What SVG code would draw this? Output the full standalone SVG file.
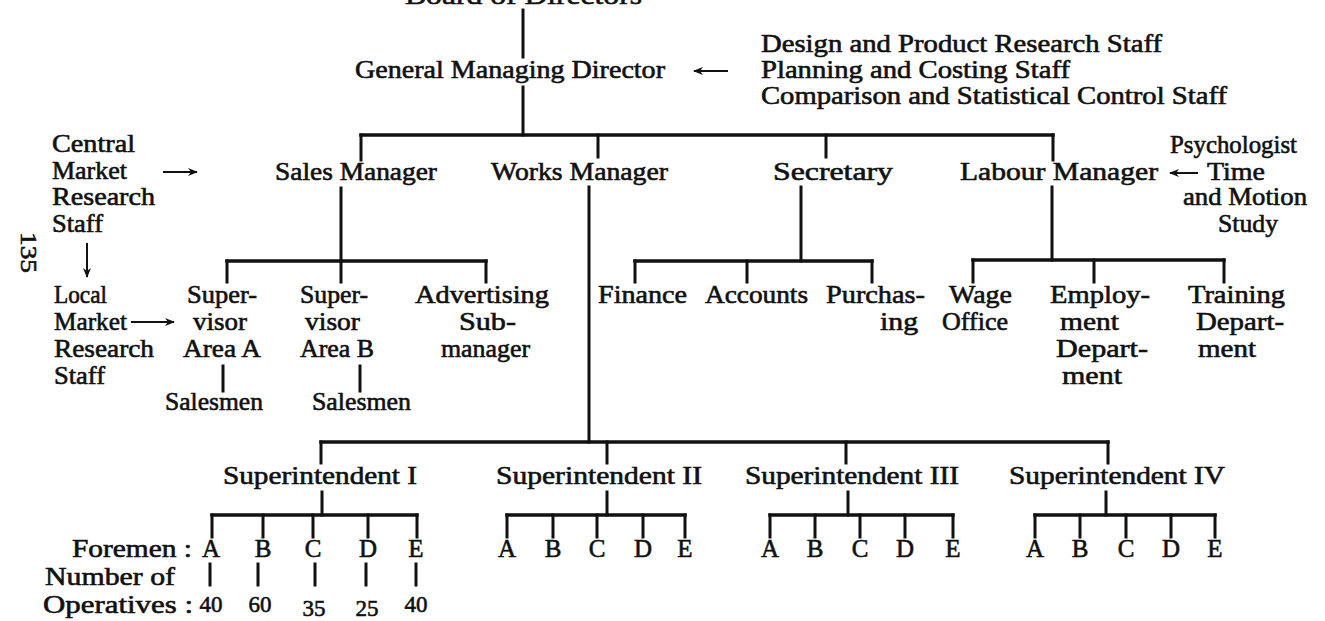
<svg xmlns="http://www.w3.org/2000/svg" width="1325" height="621" viewBox="0 0 1325 621">
<style>
text{font-family:"Liberation Serif","DejaVu Serif",serif;font-size:25px;fill:#111;stroke:#111;stroke-width:0.6}
.n{font-size:23px}
.c line{stroke:#111;stroke-width:3;stroke-linecap:square}
.c line.bar{stroke-width:3.5}
.c line.ar{stroke-width:2;stroke-linecap:butt}
</style>
<defs>
<marker id="ah" viewBox="0 0 10 10" refX="9" refY="5" markerWidth="5" markerHeight="5" orient="auto" markerUnits="strokeWidth">
<path d="M0,1 L10,5 L0,9 L3,5 Z" fill="#111"/>
</marker>
</defs>
<rect width="1325" height="621" fill="#fff"/>

<g class="c" id="connectors">
<line x1="523" y1="10" x2="523" y2="57"/>
<line x1="523" y1="87" x2="523" y2="135"/>
<line class="bar" x1="361" y1="135" x2="1053" y2="135"/>
<line x1="361" y1="135" x2="361" y2="160"/>
<line x1="598" y1="135" x2="598" y2="157"/>
<line x1="826" y1="135" x2="826" y2="157"/>
<line x1="1053" y1="135" x2="1053" y2="160"/>
<line class="ar" x1="728" y1="71" x2="694" y2="71" marker-end="url(#ah)"/>
<line class="ar" x1="163" y1="172" x2="197" y2="172" marker-end="url(#ah)"/>
<line class="ar" x1="1198" y1="173" x2="1170" y2="173" marker-end="url(#ah)"/>
<line class="ar" x1="87" y1="243" x2="87" y2="277" marker-end="url(#ah)"/>
<line class="ar" x1="131" y1="322" x2="174" y2="322" marker-end="url(#ah)"/>
<!-- sales -->
<line x1="341" y1="188" x2="341" y2="261"/>
<line class="bar" x1="227" y1="261" x2="486" y2="261"/>
<line x1="227" y1="261" x2="227" y2="282"/>
<line x1="341" y1="261" x2="341" y2="282"/>
<line x1="486" y1="261" x2="486" y2="282"/>
<line x1="223" y1="366" x2="223" y2="391"/>
<line x1="360" y1="366" x2="360" y2="391"/>
<!-- secretary -->
<line x1="801" y1="187" x2="801" y2="261"/>
<line class="bar" x1="635" y1="261" x2="872" y2="261"/>
<line x1="635" y1="261" x2="635" y2="282"/>
<line x1="747" y1="261" x2="747" y2="282"/>
<line x1="872" y1="261" x2="872" y2="282"/>
<!-- labour -->
<line x1="1052" y1="187" x2="1052" y2="260"/>
<line class="bar" x1="973" y1="260" x2="1224" y2="260"/>
<line x1="973" y1="260" x2="973" y2="282"/>
<line x1="1094" y1="260" x2="1094" y2="282"/>
<line x1="1224" y1="260" x2="1224" y2="282"/>
<!-- works -->
<line x1="589" y1="187" x2="589" y2="442"/>
<line class="bar" x1="321" y1="442" x2="1108" y2="442"/>
<line x1="321" y1="442" x2="321" y2="463"/>
<line x1="607" y1="442" x2="607" y2="463"/>
<line x1="846" y1="442" x2="846" y2="463"/>
<line x1="1108" y1="442" x2="1108" y2="463"/>
<!-- superintendents -->
<line x1="322" y1="492" x2="322" y2="515"/>
<line class="bar" x1="212" y1="515" x2="417" y2="515"/>
<line x1="212" y1="515" x2="212" y2="537"/>
<line x1="263" y1="515" x2="263" y2="537"/>
<line x1="313" y1="515" x2="313" y2="537"/>
<line x1="368" y1="515" x2="368" y2="537"/>
<line x1="417" y1="515" x2="417" y2="537"/>
<line x1="607" y1="492" x2="607" y2="515"/>
<line class="bar" x1="507" y1="515" x2="685" y2="515"/>
<line x1="507" y1="515" x2="507" y2="537"/>
<line x1="553" y1="515" x2="553" y2="537"/>
<line x1="597" y1="515" x2="597" y2="537"/>
<line x1="643" y1="515" x2="643" y2="537"/>
<line x1="685" y1="515" x2="685" y2="537"/>
<line x1="848" y1="492" x2="848" y2="515"/>
<line class="bar" x1="770" y1="515" x2="953" y2="515"/>
<line x1="770" y1="515" x2="770" y2="537"/>
<line x1="815" y1="515" x2="815" y2="537"/>
<line x1="860" y1="515" x2="860" y2="537"/>
<line x1="905" y1="515" x2="905" y2="537"/>
<line x1="953" y1="515" x2="953" y2="537"/>
<line x1="1106" y1="492" x2="1106" y2="515"/>
<line class="bar" x1="1035" y1="515" x2="1215" y2="515"/>
<line x1="1035" y1="515" x2="1035" y2="537"/>
<line x1="1080" y1="515" x2="1080" y2="537"/>
<line x1="1126" y1="515" x2="1126" y2="537"/>
<line x1="1171" y1="515" x2="1171" y2="537"/>
<line x1="1215" y1="515" x2="1215" y2="537"/>
<!-- operatives ticks -->
<line x1="210" y1="564" x2="210" y2="585"/>
<line x1="258" y1="564" x2="258" y2="585"/>
<line x1="315" y1="564" x2="315" y2="585"/>
<line x1="366" y1="564" x2="366" y2="585"/>
<line x1="416" y1="564" x2="416" y2="585"/>
</g>

<g id="board"><text x="405" y="4" textLength="237" lengthAdjust="spacingAndGlyphs">Board of Directors</text></g>
<g id="gmd"><text x="355" y="78" textLength="310" lengthAdjust="spacingAndGlyphs">General Managing Director</text></g>
<g id="staff-top">
<text x="761" y="52" textLength="401" lengthAdjust="spacingAndGlyphs">Design and Product Research Staff</text>
<text x="761" y="78" textLength="309" lengthAdjust="spacingAndGlyphs">Planning and Costing Staff</text>
<text x="761" y="104" textLength="466" lengthAdjust="spacingAndGlyphs">Comparison and Statistical Control Staff</text>
</g>
<g id="central-market">
<text x="52" y="152" textLength="83" lengthAdjust="spacingAndGlyphs">Central</text>
<text x="52" y="179" textLength="75" lengthAdjust="spacingAndGlyphs">Market</text>
<text x="52" y="205" textLength="103" lengthAdjust="spacingAndGlyphs">Research</text>
<text x="52" y="232" textLength="51" lengthAdjust="spacingAndGlyphs">Staff</text>
</g>
<g id="page-number"><text class="n" transform="translate(21,232) rotate(90)" textLength="41" lengthAdjust="spacingAndGlyphs">135</text></g>
<g id="sales-manager"><text x="275" y="180" textLength="162" lengthAdjust="spacingAndGlyphs">Sales Manager</text></g>
<g id="works-manager"><text x="491" y="180" textLength="177" lengthAdjust="spacingAndGlyphs">Works Manager</text></g>
<g id="secretary"><text x="773" y="180" textLength="120" lengthAdjust="spacingAndGlyphs">Secretary</text></g>
<g id="labour-manager"><text x="960" y="180" textLength="198" lengthAdjust="spacingAndGlyphs">Labour Manager</text></g>
<g id="psychologist">
<text x="1170" y="153" textLength="127" lengthAdjust="spacingAndGlyphs">Psychologist</text>
<text x="1207" y="180" textLength="58" lengthAdjust="spacingAndGlyphs">Time</text>
<text x="1183" y="205" textLength="124" lengthAdjust="spacingAndGlyphs">and Motion</text>
<text x="1218" y="232" textLength="60" lengthAdjust="spacingAndGlyphs">Study</text>
</g>
<g id="local-market">
<text x="54" y="303" textLength="53" lengthAdjust="spacingAndGlyphs">Local</text>
<text x="54" y="330" textLength="73" lengthAdjust="spacingAndGlyphs">Market</text>
<text x="54" y="357" textLength="100" lengthAdjust="spacingAndGlyphs">Research</text>
<text x="54" y="384" textLength="51" lengthAdjust="spacingAndGlyphs">Staff</text>
</g>
<g id="supervisor-a">
<text x="187" y="303" textLength="70" lengthAdjust="spacingAndGlyphs">Super-</text>
<text x="193" y="330" textLength="54" lengthAdjust="spacingAndGlyphs">visor</text>
<text x="183" y="357" textLength="78" lengthAdjust="spacingAndGlyphs">Area A</text>
</g>
<g id="supervisor-b">
<text x="300" y="303" textLength="68" lengthAdjust="spacingAndGlyphs">Super-</text>
<text x="305" y="330" textLength="55" lengthAdjust="spacingAndGlyphs">visor</text>
<text x="300" y="357" textLength="74" lengthAdjust="spacingAndGlyphs">Area B</text>
</g>
<g id="advertising">
<text x="415" y="303" textLength="134" lengthAdjust="spacingAndGlyphs">Advertising</text>
<text x="459" y="330" textLength="57" lengthAdjust="spacingAndGlyphs">Sub-</text>
<text x="441" y="357" textLength="89" lengthAdjust="spacingAndGlyphs">manager</text>
</g>
<g id="salesmen-a"><text x="165" y="410" textLength="98" lengthAdjust="spacingAndGlyphs">Salesmen</text></g>
<g id="salesmen-b"><text x="312" y="410" textLength="99" lengthAdjust="spacingAndGlyphs">Salesmen</text></g>
<g id="finance"><text x="598" y="303" textLength="89" lengthAdjust="spacingAndGlyphs">Finance</text></g>
<g id="accounts"><text x="705" y="303" textLength="103" lengthAdjust="spacingAndGlyphs">Accounts</text></g>
<g id="purchasing">
<text x="826" y="303" textLength="99" lengthAdjust="spacingAndGlyphs">Purchas-</text>
<text x="880" y="330" textLength="38" lengthAdjust="spacingAndGlyphs">ing</text>
</g>
<g id="wage-office">
<text x="949" y="303" textLength="63" lengthAdjust="spacingAndGlyphs">Wage</text>
<text x="942" y="330" textLength="66" lengthAdjust="spacingAndGlyphs">Office</text>
</g>
<g id="employment">
<text x="1050" y="303" textLength="100" lengthAdjust="spacingAndGlyphs">Employ-</text>
<text x="1060" y="330" textLength="59" lengthAdjust="spacingAndGlyphs">ment</text>
<text x="1056" y="357" textLength="92" lengthAdjust="spacingAndGlyphs">Depart-</text>
<text x="1062" y="384" textLength="60" lengthAdjust="spacingAndGlyphs">ment</text>
</g>
<g id="training">
<text x="1188" y="303" textLength="97" lengthAdjust="spacingAndGlyphs">Training</text>
<text x="1196" y="330" textLength="88" lengthAdjust="spacingAndGlyphs">Depart-</text>
<text x="1198" y="357" textLength="58" lengthAdjust="spacingAndGlyphs">ment</text>
</g>
<g id="sup-1"><text x="223" y="484" textLength="194" lengthAdjust="spacingAndGlyphs">Superintendent I</text></g>
<g id="sup-2"><text x="496" y="484" textLength="206" lengthAdjust="spacingAndGlyphs">Superintendent II</text></g>
<g id="sup-3"><text x="745" y="484" textLength="214" lengthAdjust="spacingAndGlyphs">Superintendent III</text></g>
<g id="sup-4"><text x="1009" y="484" textLength="216" lengthAdjust="spacingAndGlyphs">Superintendent IV</text></g>
<g id="foremen-1" text-anchor="middle">
<text x="211" y="557">A</text><text x="263" y="557">B</text><text x="313" y="557">C</text><text x="368" y="557">D</text><text x="416" y="557">E</text>
</g>
<g id="foremen-2" text-anchor="middle">
<text x="507" y="557">A</text><text x="553" y="557">B</text><text x="597" y="557">C</text><text x="643" y="557">D</text><text x="685" y="557">E</text>
</g>
<g id="foremen-3" text-anchor="middle">
<text x="770" y="557">A</text><text x="815" y="557">B</text><text x="860" y="557">C</text><text x="905" y="557">D</text><text x="953" y="557">E</text>
</g>
<g id="foremen-4" text-anchor="middle">
<text x="1035" y="557">A</text><text x="1080" y="557">B</text><text x="1126" y="557">C</text><text x="1171" y="557">D</text><text x="1215" y="557">E</text>
</g>
<g id="legend">
<text x="72" y="557" textLength="120" lengthAdjust="spacingAndGlyphs">Foremen :</text>
<text x="45" y="585" textLength="130" lengthAdjust="spacingAndGlyphs">Number of</text>
<text x="43" y="613" textLength="150" lengthAdjust="spacingAndGlyphs">Operatives :</text>
</g>
<g id="operatives" text-anchor="middle">
<text class="n" x="211" y="612">40</text>
<text class="n" x="260" y="612">60</text>
<text class="n" x="314" y="616">35</text>
<text class="n" x="367" y="616">25</text>
<text class="n" x="416" y="612">40</text>
</g>
</svg>
